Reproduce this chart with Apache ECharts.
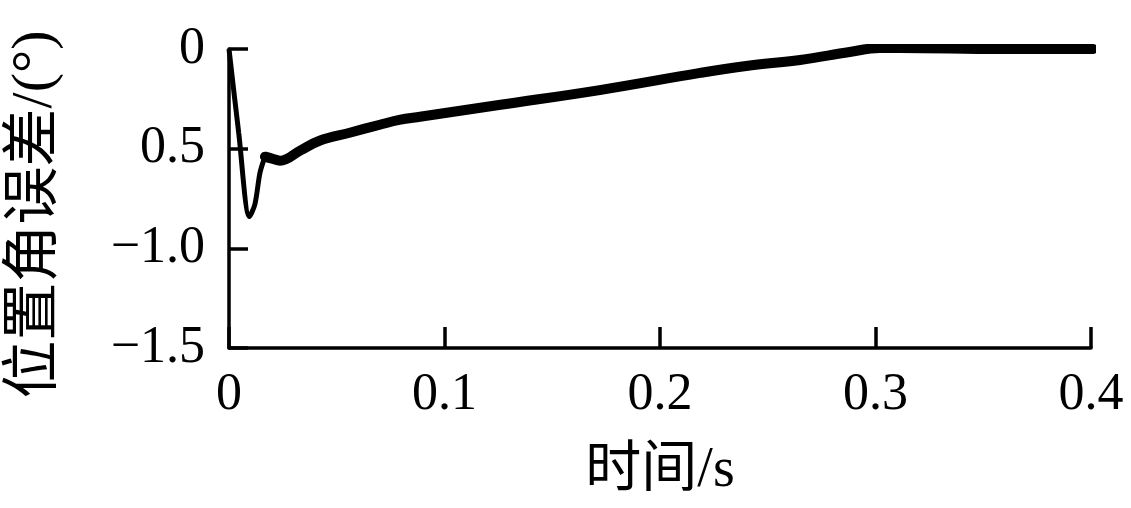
<!DOCTYPE html>
<html>
<head>
<meta charset="utf-8">
<script src="https://cdn.jsdelivr.net/npm/echarts@6/dist/echarts.min.js"></script>
<style>
  html, body { margin: 0; padding: 0; background: #fff; }
  #main { width: 1131px; height: 508px; }
</style>
</head>
<body>
<div id="main"></div>
<script>
// 时间 (s) 与 位置角误差 (°)
var transientX = [0, 0.0045, 0.0095, 0.012, 0.0144, 0.0167];
var transientY = [0, -0.42, -0.84, -0.78, -0.62, -0.54];

var bandX = [0.0167, 0.02, 0.0237, 0.033, 0.042, 0.056, 0.070, 0.079, 0.0886, 0.126, 0.172, 0.2186, 0.24, 0.265, 0.288, 0.302, 0.311, 0.358, 0.401];
var bandY = [-0.54, -0.55, -0.56, -0.51, -0.46, -0.42, -0.38, -0.356, -0.34, -0.28, -0.206, -0.12, -0.085, -0.055, -0.015, 0.005, 0.005, 0, 0];

var yTickLabels = { '-1.5': '\u22121.5', '-1': '\u22121.0', '-0.5': '0.5', '0': '0' };
var xTickLabels = { '0': '0', '0.1': '0.1', '0.2': '0.2', '0.3': '0.3', '0.4': '0.4' };

function pairs(xs, ys) {
  return xs.map(function (x, i) { return [x, ys[i]]; });
}

var myChart = echarts.init(document.getElementById('main'), null, { renderer: 'canvas' });
var serif = "'Liberation Serif', 'Noto Sans CJK SC', serif";

myChart.setOption({
  backgroundColor: '#fff',
  animation: false,
  grid: { left: 229, top: 49, right: 40, bottom: 160, containLabel: false, outerBoundsMode: 'none' },
  xAxis: {
    type: 'value',
    min: 0, max: 0.4, interval: 0.1,
    name: '时间/s',
    nameLocation: 'middle',
    nameGap: 95,
    nameTextStyle: { fontFamily: serif, fontSize: 56, color: '#000' },
    axisLine: { onZero: false, lineStyle: { color: '#000', width: 3.5 } },
    axisTick: { inside: true, length: 21, lineStyle: { color: '#000', width: 3.5 } },
    axisLabel: {
      margin: 21,
      fontFamily: serif, fontSize: 52, color: '#000',
      formatter: function (v) { return xTickLabels[String(+v.toFixed(2))]; }
    },
    splitLine: { show: false }
  },
  yAxis: {
    type: 'value',
    min: -1.5, max: 0, interval: 0.5,
    name: '位置角误差/(°)',
    nameLocation: 'middle',
    nameRotate: 90,
    nameGap: 164,
    nameTextStyle: { fontFamily: serif, fontSize: 58, color: '#000', padding: [0, 32, 0, 0] },
    axisLine: { show: true, lineStyle: { color: '#000', width: 3.5 } },
    axisTick: { show: true, inside: true, length: 19, lineStyle: { color: '#000', width: 3.5 } },
    axisLabel: {
      margin: 24,
      fontFamily: serif, fontSize: 52, color: '#000',
      formatter: function (v) { return yTickLabels[String(+v.toFixed(2))]; }
    },
    splitLine: { show: false }
  },
  series: [
    {
      name: 'transient',
      type: 'line',
      data: pairs(transientX, transientY),
      showSymbol: false,
      smooth: 0.3,
      lineStyle: { color: '#000', width: 5 }
    },
    {
      name: 'band',
      type: 'line',
      data: pairs(bandX, bandY),
      showSymbol: false,
      smooth: 0.4,
      lineStyle: { color: '#000', width: 10, cap: 'round', join: 'round' }
    }
  ]
});
</script>
</body>
</html>
